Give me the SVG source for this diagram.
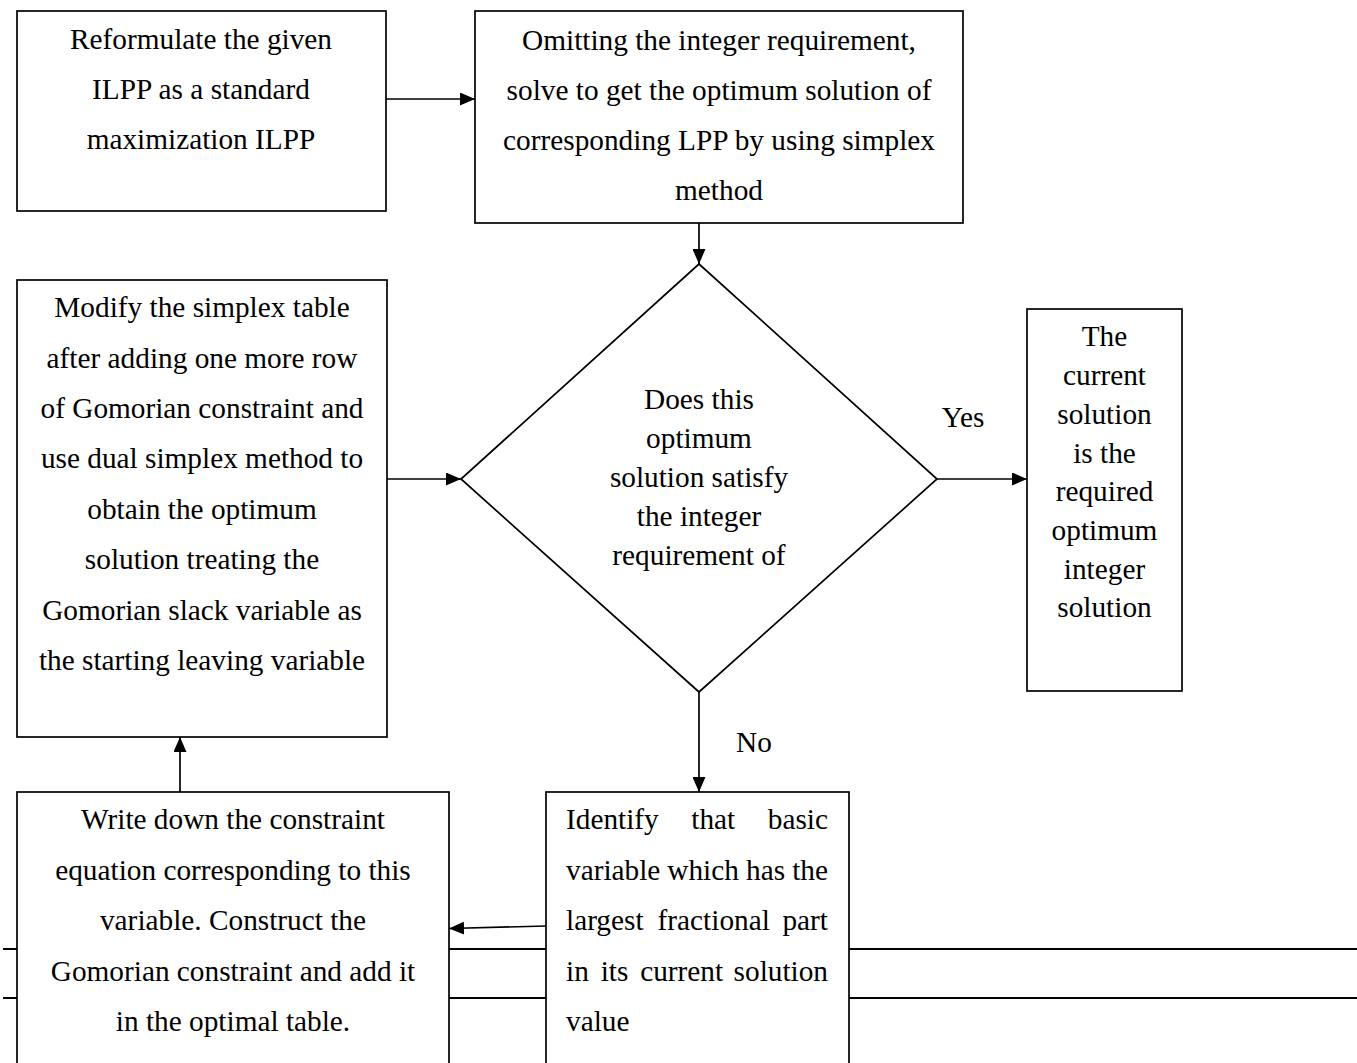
<svg xmlns="http://www.w3.org/2000/svg" width="1357" height="1063" viewBox="0 0 1357 1063">
  <style>
    .box { fill: #ffffff; stroke: #000000; stroke-width: 1.7; }
    .edge { fill: none; stroke: #000000; stroke-width: 1.7; }
    .rule { fill: none; stroke: #000000; stroke-width: 2; }
    text { font-family: "Liberation Serif", "Tinos", "Times New Roman", "Noto Serif", "DejaVu Serif", serif; font-size: 29.3px; fill: #000000; }
    .c { text-anchor: middle; }
    .e { text-anchor: end; }
  </style>
  <defs>
    <marker id="arrow" viewBox="0 0 15 13" refX="15" refY="6.5" markerWidth="15" markerHeight="13" markerUnits="userSpaceOnUse" orient="auto">
      <path d="M0,0 L15,6.5 L0,13 Z" fill="#000000"/>
    </marker>
  </defs>

  <rect width="1357" height="1063" fill="#ffffff"/>

  <!-- page rules running behind the lower boxes -->
  <g id="rules">
    <line class="rule" x1="3" y1="949" x2="1357" y2="949"/>
    <line class="rule" x1="3" y1="998" x2="1357" y2="998"/>
  </g>

  <g id="connectors">
    <line class="edge" x1="386" y1="99" x2="475" y2="99" marker-end="url(#arrow)"/>
    <line class="edge" x1="699" y1="223" x2="699" y2="264" marker-end="url(#arrow)"/>
    <line class="edge" x1="387" y1="479" x2="461" y2="479" marker-end="url(#arrow)"/>
    <line class="edge" x1="937" y1="479" x2="1027" y2="479" marker-end="url(#arrow)"/>
    <line class="edge" x1="699" y1="692" x2="699" y2="792" marker-end="url(#arrow)"/>
    <line class="edge" x1="546" y1="926" x2="449" y2="928.5" marker-end="url(#arrow)"/>
    <line class="edge" x1="180" y1="792" x2="180" y2="737" marker-end="url(#arrow)"/>
    <text class="c" x="963" y="427">Yes</text>
    <text class="c" x="754" y="752">No</text>
  </g>

  <g id="reformulate">
    <rect class="box" x="17" y="11" width="369" height="200"/>
    <text class="c" x="201" y="49">Reformulate the given</text>
    <text class="c" x="201" y="99">ILPP as a standard</text>
    <text class="c" x="201" y="149">maximization ILPP</text>
  </g>

  <g id="solve-lpp">
    <rect class="box" x="475" y="11" width="488" height="212"/>
    <text class="c" x="719" y="50">Omitting the integer requirement,</text>
    <text class="c" x="719" y="100">solve to get the optimum solution of</text>
    <text class="c" x="719" y="150">corresponding LPP by using simplex</text>
    <text class="c" x="719" y="200">method</text>
  </g>

  <g id="integer-check">
    <polygon class="box" points="699,264 937,479 699,692 461,479"/>
    <text class="c" x="699" y="409">Does this</text>
    <text class="c" x="699" y="448">optimum</text>
    <text class="c" x="699" y="487">solution satisfy</text>
    <text class="c" x="699" y="526">the integer</text>
    <text class="c" x="699" y="565">requirement of</text>
  </g>

  <g id="optimum-found">
    <rect class="box" x="1027" y="309" width="155" height="382"/>
    <text class="c" x="1104.5" y="346">The</text>
    <text class="c" x="1104.5" y="385">current</text>
    <text class="c" x="1104.5" y="424">solution</text>
    <text class="c" x="1104.5" y="463">is the</text>
    <text class="c" x="1104.5" y="501">required</text>
    <text class="c" x="1104.5" y="540">optimum</text>
    <text class="c" x="1104.5" y="579">integer</text>
    <text class="c" x="1104.5" y="617">solution</text>
  </g>

  <g id="modify-table">
    <rect class="box" x="17" y="280" width="370" height="457"/>
    <text class="c" x="202" y="317">Modify the simplex table</text>
    <text class="c" x="202" y="367.5">after adding one more row</text>
    <text class="c" x="202" y="418">of Gomorian constraint and</text>
    <text class="c" x="202" y="468">use dual simplex method to</text>
    <text class="c" x="202" y="519">obtain the optimum</text>
    <text class="c" x="202" y="569">solution treating the</text>
    <text class="c" x="202" y="620">Gomorian slack variable as</text>
    <text class="c" x="202" y="670">the starting leaving variable</text>
  </g>

  <g id="gomorian-constraint">
    <rect class="box" x="17" y="792" width="432" height="290"/>
    <text class="c" x="233" y="829">Write down the constraint</text>
    <text class="c" x="233" y="880">equation corresponding to this</text>
    <text class="c" x="233" y="930">variable. Construct the</text>
    <text class="c" x="233" y="981">Gomorian constraint and add it</text>
    <text class="c" x="233" y="1031">in the optimal table.</text>
  </g>

  <g id="fractional-variable">
    <rect class="box" x="546" y="792" width="303" height="290"/>
    <text x="566" y="829">Identify</text>
    <text x="691.3" y="829">that</text>
    <text class="e" x="828" y="829">basic</text>
    <text x="566" y="880">variable</text>
    <text x="667.3" y="880">which</text>
    <text x="746.1" y="880">has</text>
    <text class="e" x="828" y="880">the</text>
    <text x="566" y="930">largest</text>
    <text x="657.6" y="930">fractional</text>
    <text class="e" x="828" y="930">part</text>
    <text x="566" y="981">in</text>
    <text x="600.7" y="981">its</text>
    <text x="640.2" y="981">current</text>
    <text class="e" x="828" y="981">solution</text>
    <text x="566" y="1031">value</text>
  </g>
</svg>
